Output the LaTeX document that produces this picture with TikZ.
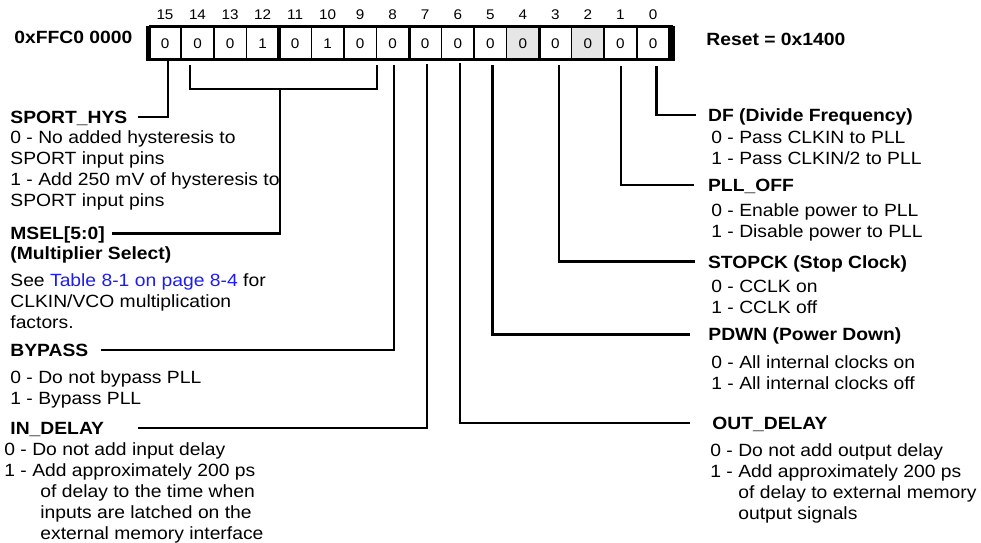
\documentclass[tikz,border=0pt]{standalone}
\usepackage{fontspec}
\setmainfont{Liberation Sans}[FakeStretch=1.09]
\usepackage{tikz}
\usepackage{xcolor}
\definecolor{xref}{RGB}{28,28,245}
\definecolor{shade}{RGB}{230,230,230}

\begin{document}
\begin{tikzpicture}[x=0.5pt,y=-0.5pt,
  cell/.style={draw,line width=0.8pt,minimum width=16.27pt,minimum height=16.55pt,inner sep=0pt,font=\fontsize{7}{8}\selectfont},
  bitno/.style={inner sep=0pt,font=\fontsize{7}{8}\selectfont},
  hd/.style={anchor=west,inner sep=0pt,text height=6.3pt,text depth=0pt,font=\fontsize{8.85}{10.5}\selectfont\bfseries},
  txt/.style={anchor=north west,align=left,inner sep=0pt,font=\fontsize{8.85}{10.5}\selectfont},
  conn/.style={line width=1.4pt}]
  \useasboundingbox (0,0) rectangle (981,542);
  \node[hd] (addr) at (14,37){0xFFC0 0000};
  \node[hd] (reset) at (706,39.3){Reset = 0x1400};
  \node[bitno] (n15) at (165,15){15};\node[bitno] (n14) at (197.5,15){14};
  \node[bitno] (n13) at (230.1,15){13};\node[bitno] (n12) at (262.6,15){12};
  \node[bitno] (n11) at (295.1,15){11};\node[bitno] (n10) at (327.7,15){10};
  \node[bitno] (n9) at (360.2,15){9};\node[bitno] (n8) at (392.7,15){8};
  \node[bitno] (n7) at (425.2,15){7};\node[bitno] (n6) at (457.8,15){6};
  \node[bitno] (n5) at (490.3,15){5};\node[bitno] (n4) at (522.8,15){4};
  \node[bitno] (n3) at (555.4,15){3};\node[bitno] (n2) at (587.9,15){2};
  \node[bitno] (n1) at (620.4,15){1};\node[bitno] (n0) at (653,15){0};
  \node[cell] (b15) at (165,43.25){0};\node[cell] (b14) at (197.5,43.25){0};
  \node[cell] (b13) at (230.1,43.25){0};\node[cell] (b12) at (262.6,43.25){1};
  \node[cell] (b11) at (295.1,43.25){0};\node[cell] (b10) at (327.7,43.25){1};
  \node[cell] (b9) at (360.2,43.25){0};\node[cell] (b8) at (392.7,43.25){0};
  \node[cell] (b7) at (425.2,43.25){0};\node[cell] (b6) at (457.8,43.25){0};
  \node[cell] (b5) at (490.3,43.25){0};\node[cell,fill=shade] (b4) at (522.8,43.25){0};
  \node[cell] (b3) at (555.4,43.25){0};\node[cell,fill=shade] (b2) at (587.9,43.25){0};
  \node[cell] (b1) at (620.4,43.25){0};\node[cell] (b0) at (653,43.25){0};
  \draw[line width=1.35pt] (148.5,26.7) -- (672.5,26.7) (148.5,59.8) -- (672.5,59.8);
  \draw[line width=2.5pt] (148.5,25.5) -- (148.5,61) (672.5,25.5) -- (672.5,61);
  \draw[line width=1.75pt] (279,24.5) -- (279,61) (409.5,24.5) -- (409.5,61) (539.5,24.5) -- (539.5,61);
  \coordinate (c15) at (168,61);
  \coordinate (c14) at (190,65);\coordinate (c9) at (377,65);
  \coordinate (cm) at (280,89);
  \coordinate (c8) at (394,65);\coordinate (c7) at (427,64);
  \coordinate (c6) at (460,63);\coordinate (c5) at (492.5,65);
  \coordinate (c3) at (559,65);\coordinate (c1) at (621,66);
  \coordinate (c0) at (656.5,66);
  \draw[conn] (c14) |- (cm) -| (c9);
  \node[hd] (hys) at (10,117){SPORT\_HYS};
  \node[txt] (hysb) at (10,130.3){0 - No added hysteresis to\\SPORT input pins\\1 - Add 250 mV of hysteresis to\\SPORT input pins};
  \node[hd] (msel) at (10,233.3){MSEL[5:0]};
  \node[hd] (mseln) at (10,253.3){(Multiplier Select)};
  \node[txt] (mselb) at (10,272.9){See \textcolor{xref}{Table 8-1 on page 8-4} for\\CLKIN/VCO multiplication\\factors.};
  \node[hd] (byp) at (10,350){BYPASS};
  \node[txt] (bypb) at (10,370.3){0 - Do not bypass PLL\\1 - Bypass PLL};
  \node[hd] (ind) at (10,428){IN\_DELAY};
  \node[txt] (indb) at (4,441.9){0 - Do not add input delay\\1 - Add approximately 200 ps\\\hspace*{18pt}of delay to the time when\\\hspace*{18pt}inputs are latched on the\\\hspace*{18pt}external memory interface};
  \node[hd] (df) at (707.7,115){DF (Divide Frequency)};
  \node[txt] (dfb) at (711,130.3){0 - Pass CLKIN to PLL\\1 - Pass CLKIN/2 to PLL};
  \node[hd] (pll) at (707.7,185){PLL\_OFF};
  \node[txt] (pllb) at (711,202.9){0 - Enable power to PLL\\1 - Disable power to PLL};
  \node[hd] (stop) at (707.7,261.7){STOPCK (Stop Clock)};
  \node[txt] (stopb) at (711,279.3){0 - CCLK on\\1 - CCLK off};
  \node[hd] (pdwn) at (708,334.5){PDWN (Power Down)};
  \node[txt] (pdwnb) at (711,355.3){0 - All internal clocks on\\1 - All internal clocks off};
  \node[hd] (outd) at (712,423){OUT\_DELAY};
  \node[txt] (outb) at (710,442.9){0 - Do not add output delay\\1 - Add approximately 200 ps\\\hspace*{14pt}of delay to external memory\\\hspace*{14pt}output signals};
  \draw[conn,shorten <=5pt] (hys.east) -| (c15);
  \draw[conn,shorten <=3.5pt] (msel.east) -| (cm);
  \draw[conn,shorten <=6pt] (byp.east) -| (c8);
  \draw[conn,shorten <=17pt] (ind.east) -| (c7);
  \draw[conn,shorten >=5.8pt] (c0) |- (df.west);
  \draw[conn,shorten >=6.8pt] (c1) |- (pll.west);
  \draw[conn,shorten >=6.3pt] (c3) |- (stop.west);
  \draw[conn,shorten >=9pt] (c5) |- (pdwn.west);
  \draw[conn,shorten >=11pt] (c6) |- (outd.west);
\end{tikzpicture}
\end{document}
